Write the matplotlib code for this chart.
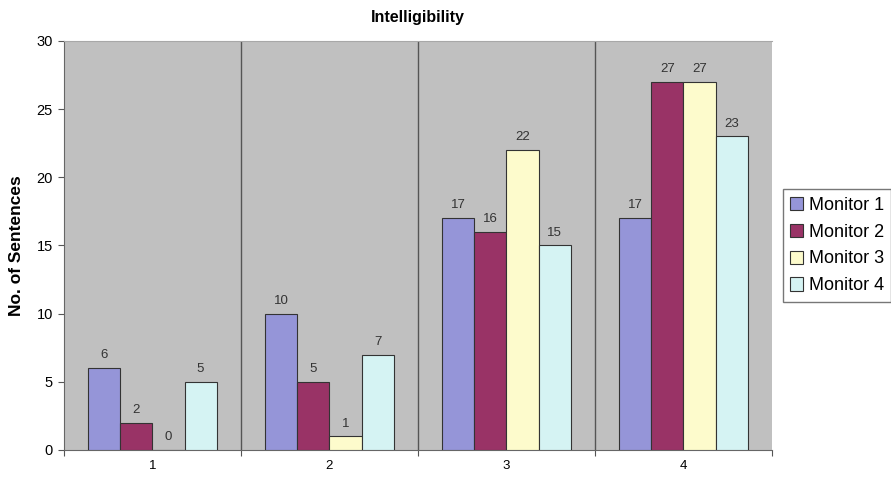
import numpy as np
import matplotlib
matplotlib.use("Agg")
import matplotlib.pyplot as plt

plt.rcParams["font.family"] = ["Liberation Sans", "DejaVu Sans"]

# Sentences understood per monitor, for each of the four tests
categories = ["1", "2", "3", "4"]
series_names = ["Monitor 1", "Monitor 2", "Monitor 3", "Monitor 4"]
monitor_1 = [6, 10, 17, 17]
monitor_2 = [2, 5, 16, 27]
monitor_3 = [0, 1, 22, 27]
monitor_4 = [5, 7, 15, 23]

colors = ["#9595d8", "#993366", "#fdfbcc", "#d5f3f3"]

fig = plt.figure(figsize=(8.91, 4.82), dpi=100)
ax = fig.add_axes([0.0718, 0.0664, 0.7946, 0.8486])
ax.set_facecolor("#c0c0c0")

x = np.arange(len(categories))
width = 0.181
all_series = [monitor_1, monitor_2, monitor_3, monitor_4]
for i, (vals, name, col) in enumerate(zip(all_series, series_names, colors)):
    pos = x + (i - 1.5) * width
    bars = ax.bar(pos, vals, width, color=col, edgecolor="#333333",
                  linewidth=0.8, label=name, zorder=3)
    for b, v in zip(bars, vals):
        ax.text(b.get_x() + b.get_width() / 2, v + 0.5, str(v),
                ha="center", va="bottom", fontsize=9.5, color="#333333")

# category separators
for sep in x[:-1] + 0.5:
    ax.axvline(sep, color="#555555", linewidth=1.0, zorder=2)

ax.set_xlim(-0.5, len(categories) - 0.5)
ax.set_ylim(0, 30)
ax.set_yticks(range(0, 31, 5))

ax.set_xticks(np.arange(-0.5, len(categories)), labels=[""] * (len(categories) + 1))
ax.set_xticks(x, labels=categories, minor=True)
ax.tick_params(axis="x", which="minor", length=0, labelsize=9.5, pad=7)
ax.tick_params(axis="x", which="major", length=4, color="#555555")
ax.tick_params(axis="y", length=4, color="#555555", labelsize=10.5, pad=4)

for s in ["left", "bottom"]:
    ax.spines[s].set_color("#666666")
ax.spines["top"].set_color("#a8a8a8")
ax.spines["right"].set_visible(False)

ax.set_ylabel("No. of Sentences", fontsize=12.5, fontweight="bold", labelpad=9)
ax.set_title("Intelligibility", fontsize=11.5, fontweight="bold", pad=14)

leg = ax.legend(loc="center left", bbox_to_anchor=(1.015, 0.5), fontsize=13,
                frameon=True, fancybox=False, edgecolor="#555555",
                handlelength=0.75, handleheight=0.75, handletextpad=0.3,
                borderpad=0.4, labelspacing=0.55, borderaxespad=0)
leg.get_frame().set_linewidth(1.0)

fig.savefig("out.png", dpi=100)
